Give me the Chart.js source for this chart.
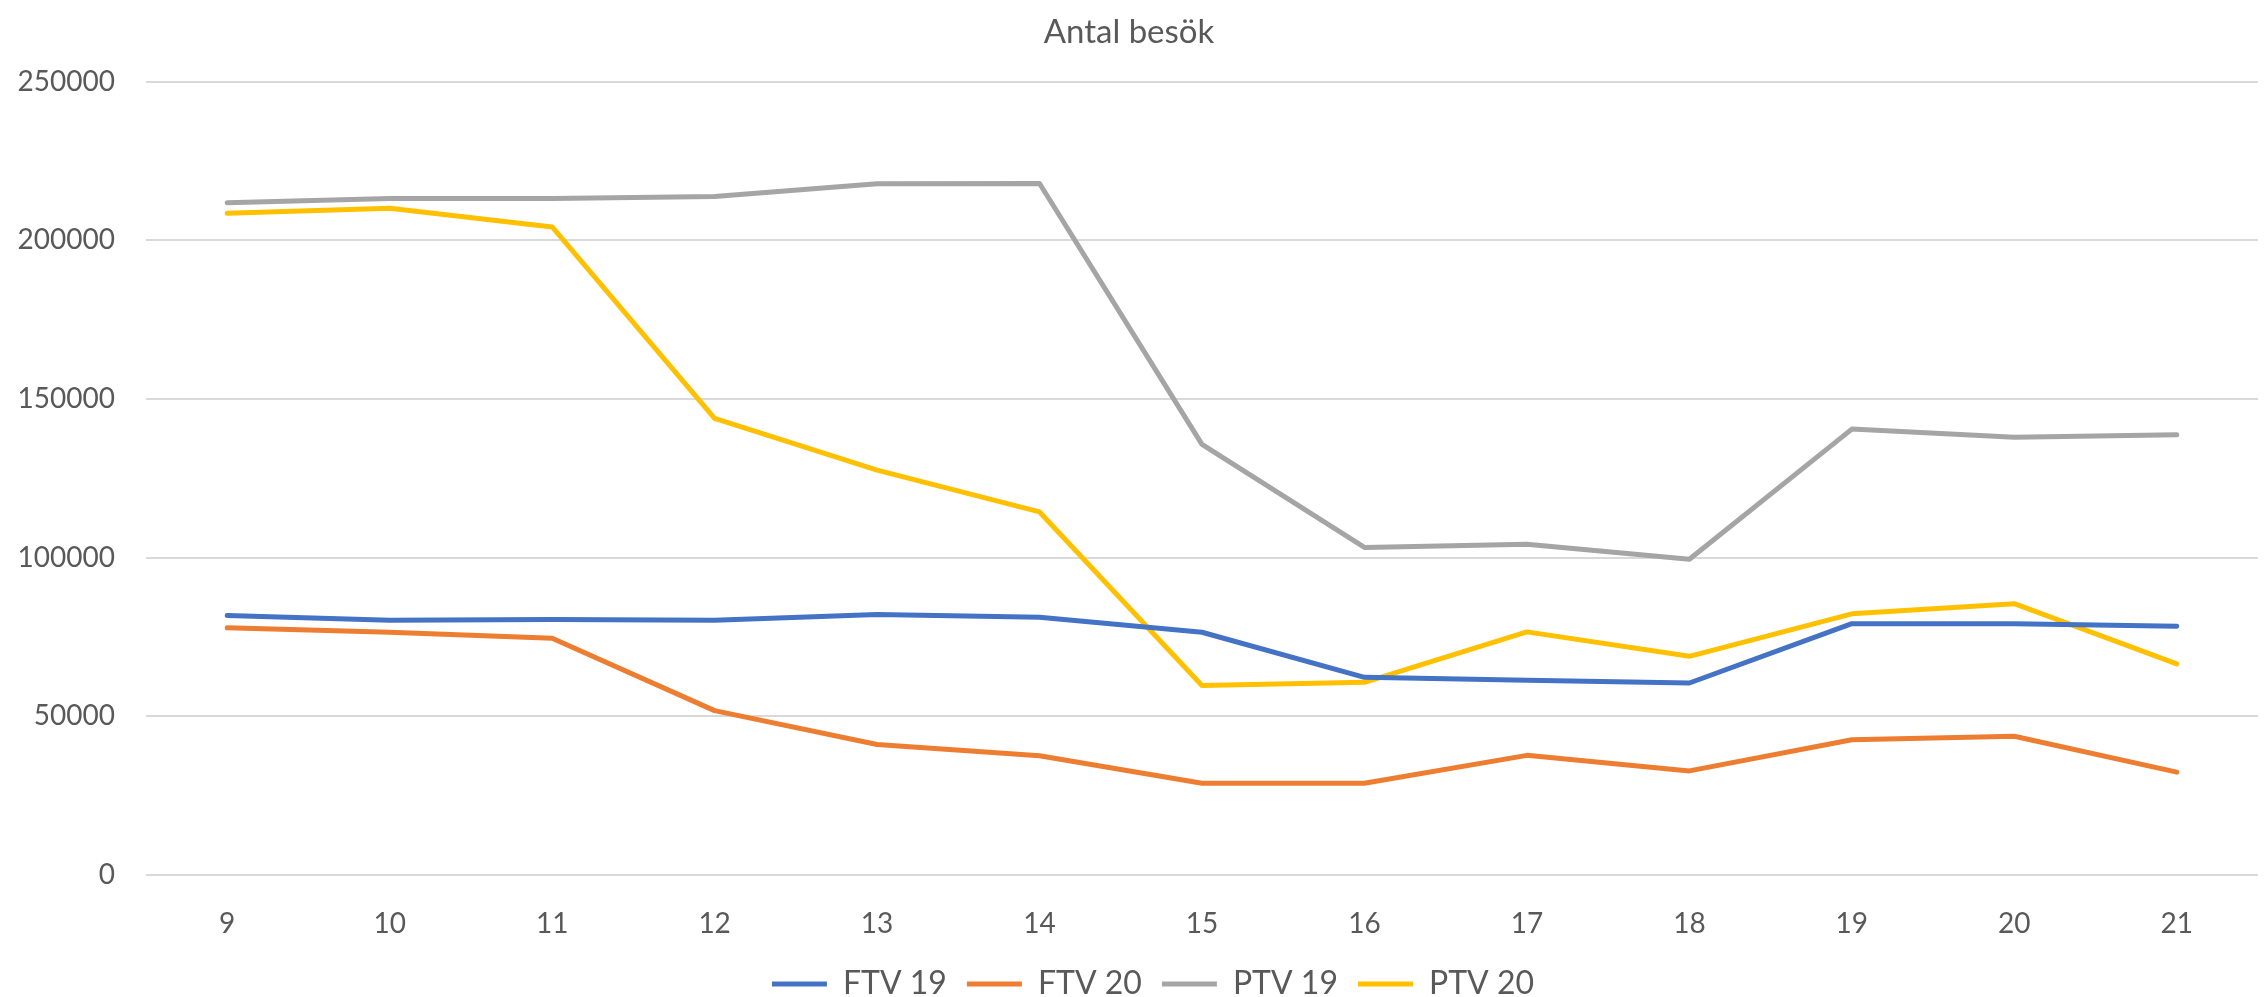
<!DOCTYPE html>
<html>
<head>
<meta charset="utf-8">
<script src="https://cdn.jsdelivr.net/npm/chart.js@4/dist/chart.umd.min.js"></script>
<style>
    html, body { margin: 0; padding: 0; background: #fff; overflow: hidden; }
    #wrap { width: 2267px; height: 997px; }
</style>
</head>
<body>
<div id="wrap"><canvas id="chart" width="2267" height="997"></canvas></div>
<script>
// Weeks
const weeks = ['9', '10', '11', '12', '13', '14', '15', '16', '17', '18', '19', '20', '21'];

// Visits per week
const ftv19 = [81800, 80300, 80500, 80300, 82100, 81200, 76500, 62300, 61400, 60500, 79200, 79200, 78400];
const ftv20 = [77900, 76500, 74600, 51800, 41100, 37600, 28900, 28900, 37700, 32800, 42600, 43700, 32400];
const ptv19 = [211800, 213200, 213200, 213800, 217800, 217900, 135700, 103200, 104200, 99500, 140500, 137900, 138700];
const ptv20 = [208500, 210100, 204200, 143900, 127600, 114400, 59700, 60700, 76600, 68900, 82300, 85500, 66500];

const yTicks = [0, 50000, 100000, 150000, 200000, 250000];

const textColor = '#595959';
const fontFamily = 'Lato, "Open Sans", sans-serif';

function series(label, data, color) {
    return {
        label: label,
        data: data,
        borderColor: color,
        backgroundColor: color,
        borderWidth: 5,
        borderCapStyle: 'round',
        borderJoinStyle: 'round',
        pointRadius: 0,
        pointHoverRadius: 0,
        tension: 0,
        fill: false
    };
}

// nudge the legend a bit right, Excel centres it slightly off the canvas centre
const legendShift = {
    id: 'legendShift',
    afterLayout: function (chart) {
        chart.legend.left += 24;
        chart.legend.right += 24;
    }
};

new Chart(document.getElementById('chart'), {
    type: 'line',
    data: {
        labels: weeks,
        datasets: [
            series('FTV 19', ftv19, '#4472C4'),
            series('FTV 20', ftv20, '#ED7D31'),
            series('PTV 19', ptv19, '#A5A5A5'),
            series('PTV 20', ptv20, '#FFC000')
        ]
    },
    plugins: [legendShift],
    options: {
        responsive: false,
        maintainAspectRatio: false,
        animation: false,
        layout: {
            padding: { left: 0, right: 9, top: 0, bottom: -13 }
        },
        plugins: {
            title: {
                display: true,
                text: 'Antal besök',
                color: textColor,
                font: { family: fontFamily, size: 33, weight: 'normal' },
                padding: { top: 13, bottom: 29 }
            },
            legend: {
                position: 'bottom',
                labels: {
                    color: textColor,
                    font: { family: fontFamily, size: 32 },
                    usePointStyle: true,
                    pointStyle: 'line',
                    pointStyleWidth: 55,
                    boxHeight: 5,
                    padding: 20
                }
            },
            tooltip: { enabled: false }
        },
        scales: {
            x: {
                offset: true,
                grid: { display: false },
                border: { display: false },
                ticks: {
                    color: textColor,
                    font: { family: fontFamily, size: 28 },
                    padding: 24,
                    maxRotation: 0
                },
                afterFit: function (scale) {
                    scale.height = 73;
                }
            },
            y: {
                min: 0,
                max: 250000,
                grid: {
                    color: '#D9D9D9',
                    lineWidth: 2,
                    drawTicks: false
                },
                border: { display: false },
                afterBuildTicks: function (scale) {
                    scale.ticks = yTicks.map(v => ({ value: v }));
                },
                ticks: {
                    color: textColor,
                    font: { family: fontFamily, size: 28 },
                    padding: 31,
                    callback: function (value) {
                        return String(value);
                    }
                },
                afterFit: function (scale) {
                    scale.width = 146;
                }
            }
        }
    }
});
</script>
</body>
</html>
